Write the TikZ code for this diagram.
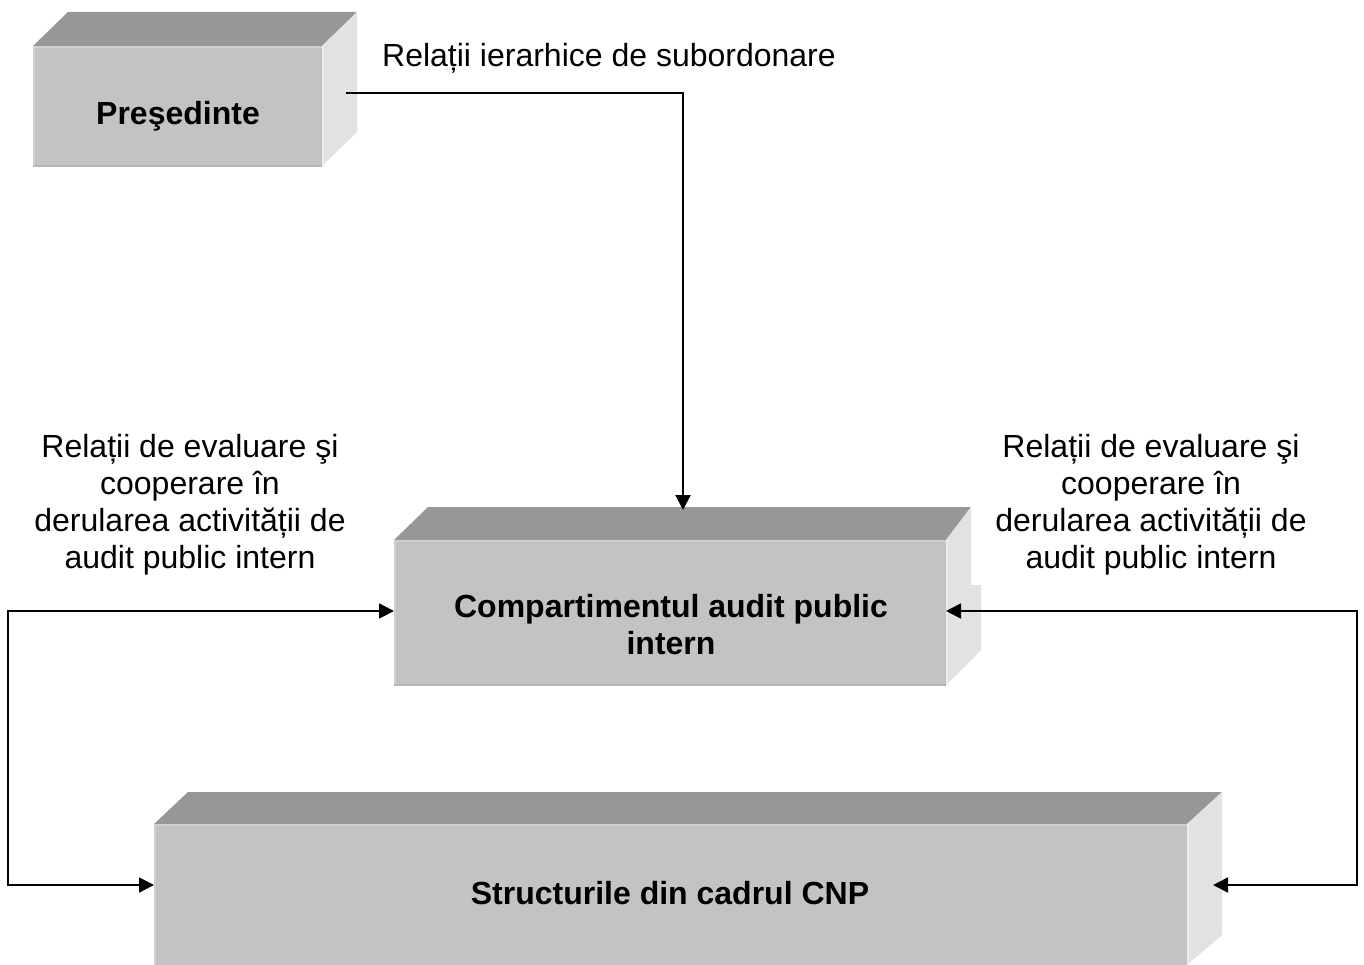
\documentclass[tikz,border=0pt]{standalone}
\usepackage{fontspec}
\setmainfont{Liberation Sans}
\usetikzlibrary{arrows.meta}
\definecolor{facefront}{HTML}{C3C3C3}
\definecolor{facetop}{HTML}{979797}
\definecolor{faceside}{HTML}{E2E2E2}
\definecolor{rimlight}{HTML}{D0D0D0}
\definecolor{rimdark}{HTML}{B4B4B4}
\definecolor{rimside}{HTML}{EDEDED}
\begin{document}
\begin{tikzpicture}[x=1pt,y=1pt,
  front/.style={fill=facefront, draw=none, inner sep=0pt, outer sep=0pt},
  topface/.style={fill=facetop},
  sideface/.style={fill=faceside},
  rim/.style={draw=rimlight, line width=2pt},
  rimlow/.style={draw=rimdark, line width=1.5pt},
  rimedge/.style={draw=rimside, line width=2pt},
  boxtext/.style={font=\fontsize{32}{37}\selectfont\bfseries, align=center, anchor=base, inner sep=0pt},
  note/.style={font=\fontsize{32}{37}\selectfont, align=center, anchor=base, inner sep=0pt},
  conn/.style={line width=2pt, -{Triangle[length=15pt,width=15pt]}},
  connboth/.style={line width=1.8pt, {Triangle[length=15pt,width=15pt]}-{Triangle[length=15pt,width=15pt]}},
]
\useasboundingbox (0,0) rectangle (1364,-965);

% ---- Presedinte block ----
\node[front, minimum width=289pt, minimum height=120pt] (pres) at (177.5,-106) {};
\fill[topface] (pres.north west) -- (68,-12) -- (357,-12) -- (pres.north east) -- cycle;
\fill[sideface] (pres.north east) -- (357,-12) -- (357,-132) -- (pres.south east) -- cycle;
\draw[rim] ([xshift=1pt]pres.south west) -- ([xshift=1pt,yshift=-1pt]pres.north west) -- ([yshift=-1pt]pres.north east);
\draw[rimlow] (pres.south west) -- (pres.south east);
\draw[rimedge] ([xshift=1pt]pres.north east) -- ([xshift=1pt]pres.south east);
\node[boxtext] (presText) at (178,-125) {Preşedinte};

% ---- Compartimentul audit public intern block ----
\node[front, minimum width=552pt, minimum height=145pt] (cap) at (670,-612.5) {};
\fill[topface] (cap.north west) -- (428,-507) -- (971,-507) -- (cap.north east) -- cycle;
\fill[sideface] (cap.north east) -- (971,-507) -- (971,-585) -- (981,-585) -- (981,-650) -- (cap.south east) -- cycle;
\draw[rim] ([xshift=1pt]cap.south west) -- ([xshift=1pt,yshift=-1pt]cap.north west) -- ([yshift=-1pt]cap.north east);
\draw[rimlow] (cap.south west) -- (cap.south east);
\draw[rimedge] ([xshift=1pt]cap.north east) -- ([xshift=1pt]cap.south east);
% base anchor of a multi-line node sits on its last line
\node[boxtext] (capText) at (671,-654) {Compartimentul audit public\\intern};

% ---- Structurile din cadrul CNP block ----
\node[front, minimum width=1033pt, minimum height=141pt] (cnp) at (670.5,-894.5) {};
\fill[topface] (cnp.north west) -- (188,-792) -- (1222,-792) -- (cnp.north east) -- cycle;
\fill[sideface] (cnp.north east) -- (1222,-792) -- (1222,-935) -- (cnp.south east) -- cycle;
\draw[rim] ([xshift=1pt]cnp.south west) -- ([xshift=1pt,yshift=-1pt]cnp.north west) -- ([yshift=-1pt]cnp.north east);
\draw[rimedge] ([xshift=1pt]cnp.north east) -- ([xshift=1pt]cnp.south east);
\node[boxtext] (cnpText) at (670,-904) {Structurile din cadrul CNP};

% ---- labels ----
\node[note, anchor=base west] (subLabel) at (382,-67) {Relații ierarhice de subordonare};
\node[note] (leftLabel) at (190,-568) {Relații de evaluare şi\\cooperare în\\derularea activității de\\audit public intern};
\node[note] (rightLabel) at (1151,-568) {Relații de evaluare şi\\cooperare în\\derularea activității de\\audit public intern};

% ---- connectors ----
\coordinate (presOut) at (346,-93);
\coordinate (capIn) at (683,-510);
\draw[conn] (presOut) -| (capIn);

\coordinate (L1) at (8,-611);
\coordinate (L2) at (8,-885);
\draw[connboth] (cap.west |- L1) -- (L1) -- (L2) -- (cnp.west |- L2);

\coordinate (R1) at (1357,-611);
\coordinate (R2) at (1357,-885);
\coordinate (cnpSide) at (1213,-885);
\draw[connboth] (cap.east |- R1) -- (R1) -- (R2) -- (cnpSide);
\end{tikzpicture}
\end{document}
